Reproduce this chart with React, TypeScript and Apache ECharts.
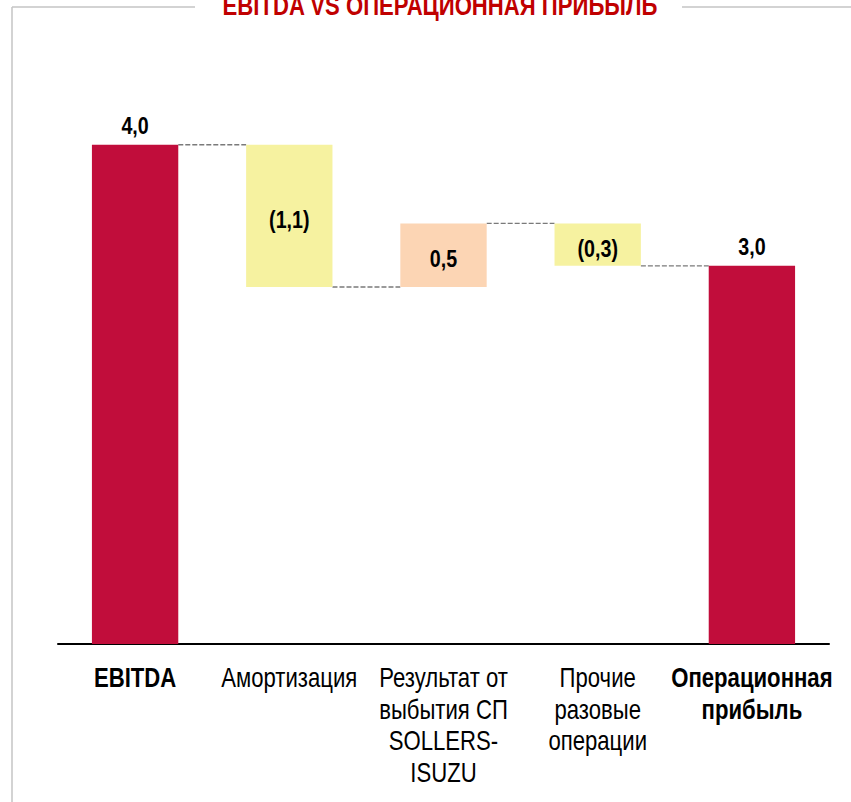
import React, { useEffect, useRef } from "react";
import * as echarts from "echarts";

const TITLE = "EBITDA VS ОПЕРАЦИОННАЯ ПРИБЫЛЬ";
const categories = [
  "EBITDA",
  "Амортизация",
  "Результат от\nвыбытия СП\nSOLLERS-\nISUZU",
  "Прочие\nразовые\nоперации",
  "Операционная\nприбыль",
];
// step values (first is the starting total; the final total is their sum)
const stepValues = [4.0, -1.14, 0.51, -0.34];
const isTotal = [true, false, false, false, true];
const colors = ["#C10D3B", "#F6F2A0", "#FCD5B4", "#F6F2A0", "#C10D3B"];

const FONT = "'Liberation Sans', Arial, sans-serif";
const NARROW = 0.82;

function fmt(v: number, neg: boolean) {
  const s = Math.abs(v).toFixed(1).replace(".", ",");
  return neg ? `(${s})` : s;
}

export default function App() {
  const ref = useRef<HTMLDivElement>(null);
  useEffect(() => {
    if (!ref.current) return;
    const chart = echarts.init(ref.current, undefined, { renderer: "svg" });

    const base: number[] = [];
    const visible: number[] = [];
    const labels: string[] = [];
    const levels: number[] = [];
    let cum = 0;
    stepValues.forEach((v, i) => {
      if (i === 0) {
        base.push(0);
        visible.push(v);
        cum = v;
        labels.push(fmt(v, false));
      } else {
        const next = cum + v;
        base.push(Math.min(cum, next));
        visible.push(Math.abs(v));
        labels.push(fmt(v, v < 0));
        cum = next;
      }
      levels.push(cum);
    });
    base.push(0);
    visible.push(cum);
    labels.push(fmt(cum, false));

    const connectors = levels.map((l, i) => [i, l]);
    const labelData = visible.map((v, i) => [i, base[i], base[i] + v]);
    const catData = categories.map((_, i) => [i, 0]);

    chart.setOption({
      animation: false,
      graphic: [
        { type: "line", shape: { x1: 12, y1: 7, x2: 195, y2: 7 }, style: { stroke: "#c4c4c4", lineWidth: 1.5 } },
        { type: "line", shape: { x1: 682, y1: 7, x2: 851, y2: 7 }, style: { stroke: "#c4c4c4", lineWidth: 1.5 } },
        { type: "line", shape: { x1: 12, y1: 7, x2: 12, y2: 802 }, style: { stroke: "#c4c4c4", lineWidth: 1.5 } },
        {
          type: "text",
          x: 440,
          y: 6,
          scaleX: NARROW,
          style: {
            text: TITLE,
            fontFamily: FONT,
            fontSize: 27,
            fontWeight: "bold",
            fill: "#C00000",
            align: "center",
            verticalAlign: "middle",
          },
        },
      ],
      grid: { left: 58, right: 22, top: 20, bottom: 158 },
      xAxis: {
        type: "category",
        data: categories,
        axisLine: { lineStyle: { color: "#000", width: 2 } },
        axisTick: { show: false },
        axisLabel: { show: false },
      },
      yAxis: { type: "value", min: 0, max: 5, show: false, splitLine: { show: false } },
      series: [
        {
          type: "bar",
          stack: "w",
          data: base,
          itemStyle: { color: "transparent" },
          barWidth: "56%",
          silent: true,
        },
        {
          type: "bar",
          stack: "w",
          barWidth: "56%",
          data: visible.map((v, i) => ({ value: v, itemStyle: { color: colors[i] } })),
        },
        {
          type: "custom",
          data: connectors,
          renderItem: (params: any, api: any) => {
            const i = api.value(0);
            const lvl = api.value(1);
            const p1 = api.coord([i, lvl]);
            const p2 = api.coord([i + 1, lvl]);
            const bw = api.size([1, 0])[0] * 0.56;
            return {
              type: "line",
              shape: { x1: p1[0] + bw / 2, y1: p1[1], x2: p2[0] - bw / 2, y2: p2[1] },
              style: { stroke: "#7a7a7a", lineWidth: 1.4, lineDash: [5, 2] },
            };
          },
        },
        {
          type: "custom",
          data: labelData,
          z: 5,
          renderItem: (params: any, api: any) => {
            const i = api.value(0);
            const lo = api.value(1);
            const hi = api.value(2);
            const pTop = api.coord([i, hi]);
            const pBot = api.coord([i, lo]);
            const total = isTotal[i];
            return {
              type: "text",
              x: pTop[0],
              y: total ? pTop[1] - 7 : (pTop[1] + pBot[1]) / 2 + 4,
              scaleX: NARROW,
              style: {
                text: labels[i],
                fontFamily: FONT,
                fontSize: 24,
                fontWeight: "bold",
                fill: "#000",
                align: "center",
                verticalAlign: total ? "bottom" : "middle",
              },
            };
          },
        },
        {
          type: "custom",
          data: catData,
          z: 5,
          renderItem: (params: any, api: any) => {
            const i = api.value(0);
            const p = api.coord([i, 0]);
            return {
              type: "text",
              x: p[0],
              y: p[1] + 18,
              scaleX: NARROW,
              style: {
                text: categories[i],
                fontFamily: FONT,
                fontSize: 27,
                lineHeight: 31.5,
                fontWeight: isTotal[i] ? "bold" : "normal",
                fill: "#000",
                align: "center",
                verticalAlign: "top",
              },
            };
          },
        },
      ],
    });
    return () => chart.dispose();
  }, []);
  return (
    <div
      ref={ref}
      style={{ position: "absolute", left: 0, top: 0, width: 851, height: 802, background: "#fff" }}
    />
  );
}
